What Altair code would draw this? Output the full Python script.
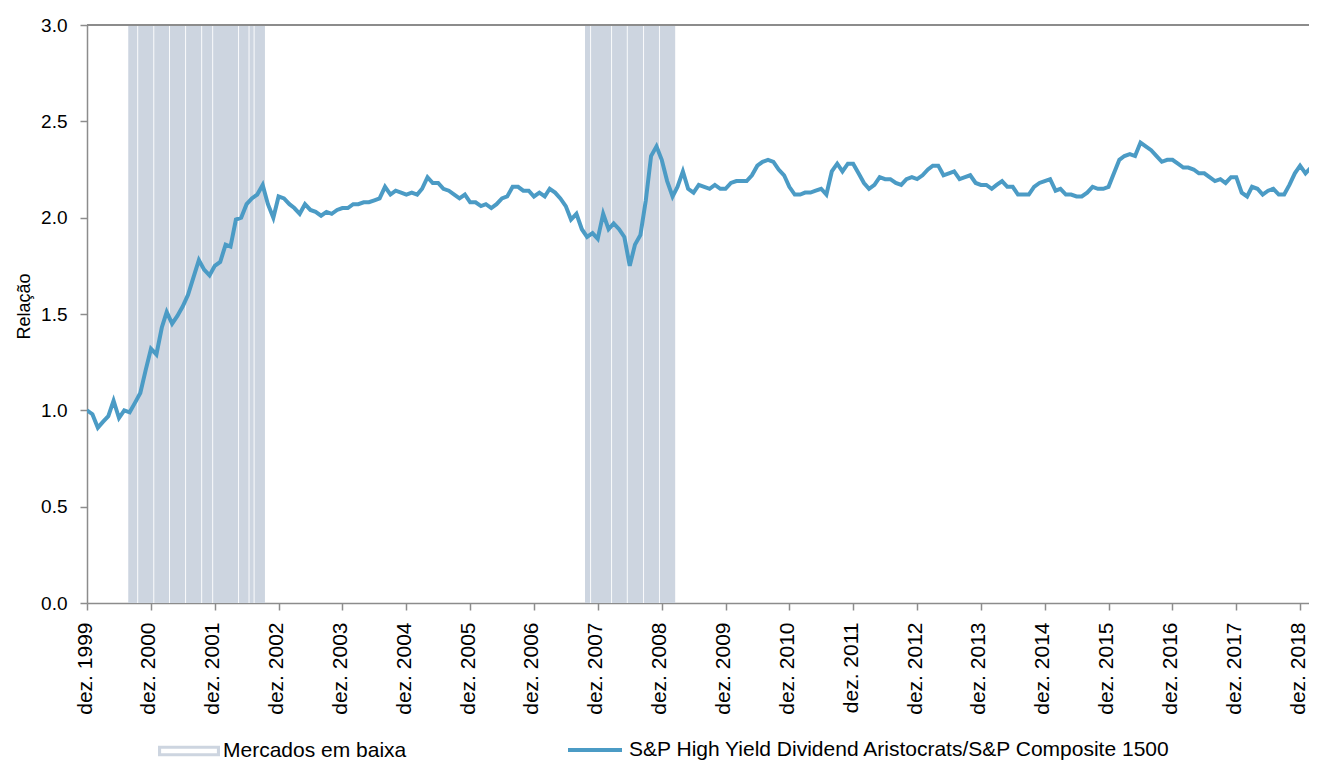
import altair as alt
import pandas as pd

FONT = "Liberation Sans"

# Monthly ratio values, Dec 1999 onwards
first_month = "1999-12-01"
ratio = [
    1.00, 0.98, 0.91, 0.94, 0.97, 1.05, 0.96, 1.00, 0.99, 1.04, 1.09, 1.21,
    1.32, 1.29, 1.43, 1.51, 1.45, 1.49, 1.54, 1.60, 1.69, 1.78, 1.73, 1.70,
    1.75, 1.77, 1.86, 1.85, 1.99, 2.00, 2.07, 2.10, 2.12, 2.17, 2.07, 2.00,
    2.11, 2.10, 2.07, 2.05, 2.02, 2.07, 2.04, 2.03, 2.01, 2.03, 2.02, 2.04,
    2.05, 2.05, 2.07, 2.07, 2.08, 2.08, 2.09, 2.10, 2.16, 2.12, 2.14, 2.13,
    2.12, 2.13, 2.12, 2.15, 2.21, 2.18, 2.18, 2.15, 2.14, 2.12, 2.10, 2.12,
    2.08, 2.08, 2.06, 2.07, 2.05, 2.07, 2.10, 2.11, 2.16, 2.16, 2.14, 2.14,
    2.11, 2.13, 2.11, 2.15,
    2.13, 2.10, 2.06, 1.99, 2.02, 1.94, 1.90, 1.92, 1.89, 2.02, 1.94, 1.97,
    1.94, 1.90, 1.75, 1.86, 1.91, 2.09, 2.32, 2.37, 2.30, 2.19, 2.11, 2.16,
    2.24, 2.15, 2.13, 2.17,
    2.16, 2.15, 2.17, 2.15, 2.15, 2.18, 2.19, 2.19, 2.19, 2.22, 2.27, 2.29,
    2.30, 2.29, 2.25, 2.22, 2.16, 2.12, 2.12, 2.13, 2.13, 2.14, 2.15, 2.12,
    2.24, 2.28, 2.24, 2.28, 2.28, 2.23, 2.18, 2.15, 2.17, 2.21, 2.20, 2.20,
    2.18, 2.17, 2.20, 2.21, 2.20, 2.22, 2.25, 2.27, 2.27, 2.22, 2.23, 2.24,
    2.20, 2.21, 2.22, 2.18, 2.17, 2.17, 2.15, 2.17, 2.19, 2.16, 2.16, 2.12,
    2.12, 2.12, 2.16, 2.18, 2.19, 2.20, 2.14, 2.15, 2.12, 2.12, 2.11, 2.11,
    2.13, 2.16, 2.15, 2.15, 2.16, 2.23, 2.30, 2.32, 2.33, 2.32, 2.39, 2.37,
    2.35, 2.32, 2.29, 2.30, 2.30, 2.28, 2.26, 2.26, 2.25, 2.23, 2.23, 2.21,
    2.19, 2.20, 2.18, 2.21, 2.21, 2.13, 2.11, 2.16, 2.15, 2.12, 2.14, 2.15,
    2.12, 2.12, 2.17, 2.23, 2.27, 2.23, 2.26, 2.21,
]
series_name = "S&P High Yield Dividend Aristocrats/S&P Composite 1500"

# Bear market periods
bear_label = "Mercados em baixa"
bear_starts = ["2000-07-24", "2007-09-19"]
bear_ends = ["2002-09-14", "2009-02-16"]
bear_separators = [
    "2000-09-16", "2000-12-17", "2001-03-17", "2001-06-17", "2001-09-17",
    "2001-11-19", "2002-04-16", "2002-06-15", "2002-07-14",
    "2007-10-21", "2008-02-18", "2008-05-18", "2008-08-19", "2008-11-18",
]

y_ticks = [0.0, 0.5, 1.0, 1.5, 2.0, 2.5, 3.0]
tick_years = list(range(1999, 2019))

dates = pd.date_range(first_month, periods=len(ratio), freq="MS").strftime("%Y-%m-%d")
line_df = pd.DataFrame({"date": dates, "ratio": ratio, "series": series_name})
bear_df = pd.DataFrame({"start": bear_starts, "end": bear_ends, "label": bear_label})
sep_df = pd.DataFrame({"date": bear_separators})

AXIS_GRAY = "#8C8C8C"
LINE_BLUE = "#4B9BC5"
SHADE = "#CDD5E0"

x_scale = alt.Scale(
    type="utc",
    domain=[alt.DateTime(year=1999, month=12, date=1, utc=True),
            alt.DateTime(year=2019, month=1, date=21, utc=True)],
)
y_scale = alt.Scale(domain=[0, 3], nice=False, zero=True)

x_axis = alt.Axis(
    values=[alt.DateTime(year=y, month=12, date=1, utc=True) for y in tick_years],
    labelExpr="'dez. ' + utcFormat(datum.value, '%Y')",
    labelAngle=270, labelAlign="right", labelBaseline="middle",
    labelFontSize=21, labelFont=FONT, labelColor="#000000",
    labelPadding=12, labelOffset=-2, labelOverlap=False, labelFlush=False,
    labelBound=False,
    tickSize=7, tickColor=AXIS_GRAY, tickWidth=1.5,
    domainColor=AXIS_GRAY, domainWidth=1.5, grid=False, title=None,
)
y_axis = alt.Axis(
    values=y_ticks, format=".1f",
    labelFontSize=19, labelFont=FONT, labelColor="#000000", labelPadding=13,
    tickSize=7, tickColor=AXIS_GRAY, tickWidth=1.5,
    domainColor=AXIS_GRAY, domainWidth=1.5, grid=False,
    title="Relação", titleFont=FONT, titleFontSize=18, titleFontWeight="normal",
    titleColor="#000000", titleX=-63, titleY=281, titleAngle=270,
    titleAlign="center", titleBaseline="middle",
)

# legend swatch: a frame (outer rectangle with a hole)
frame_path = "M-1,-0.17H1V0.17H-1Z M-0.9,-0.07V0.07H0.9V-0.07Z"

shade = alt.Chart(bear_df).mark_rect(color=SHADE, opacity=1).encode(
    x=alt.X("start:T", scale=x_scale, axis=x_axis),
    x2="end:T",
    y=alt.datum(0, scale=y_scale, axis=y_axis),
    y2=alt.datum(3),
    color=alt.Color(
        "label:N",
        scale=alt.Scale(domain=[bear_label], range=[SHADE]),
        legend=alt.Legend(
            orient="none", legendX=71, legendY=695, direction="horizontal",
            title=None, symbolType=frame_path, symbolSize=3844,
            symbolStrokeWidth=0,
            labelFont=FONT, labelFontSize=21, labelColor="#000000", labelOffset=3,
            labelLimit=1000,
        ),
    ),
)

seps = alt.Chart(sep_df).mark_rule(color="#FFFFFF", strokeWidth=1, opacity=0.9).encode(
    x=alt.X("date:T", scale=x_scale),
    y=alt.datum(0),
    y2=alt.datum(3),
)

top_rule = alt.Chart(line_df).mark_rule(color=AXIS_GRAY, strokeWidth=1.5).encode(
    y=alt.datum(3.0),
)

line = alt.Chart(line_df).mark_line(strokeWidth=4, clip=True).encode(
    x=alt.X("date:T", scale=x_scale),
    y=alt.Y("ratio:Q", scale=y_scale),
    color=alt.Color(
        "series:N",
        scale=alt.Scale(domain=[series_name], range=[LINE_BLUE]),
        legend=alt.Legend(
            orient="none", legendX=479, legendY=696, direction="horizontal",
            title=None, symbolType="stroke", symbolSize=2916, symbolStrokeWidth=4,
            labelFont=FONT, labelFontSize=21, labelColor="#000000", labelOffset=5,
            labelLimit=1000,
        ),
    ),
)

chart = alt.layer(shade, seps, top_rule, line).resolve_scale(
    color="independent"
).properties(
    width=1222, height=578,
    padding={"left": 79, "top": 17, "right": 0, "bottom": 160},
    autosize=alt.AutoSizeParams(type="none"),
    background="#FFFFFF",
).configure_view(stroke=None)

chart.save("out.html", embed_options={"renderer": "svg", "actions": False})
